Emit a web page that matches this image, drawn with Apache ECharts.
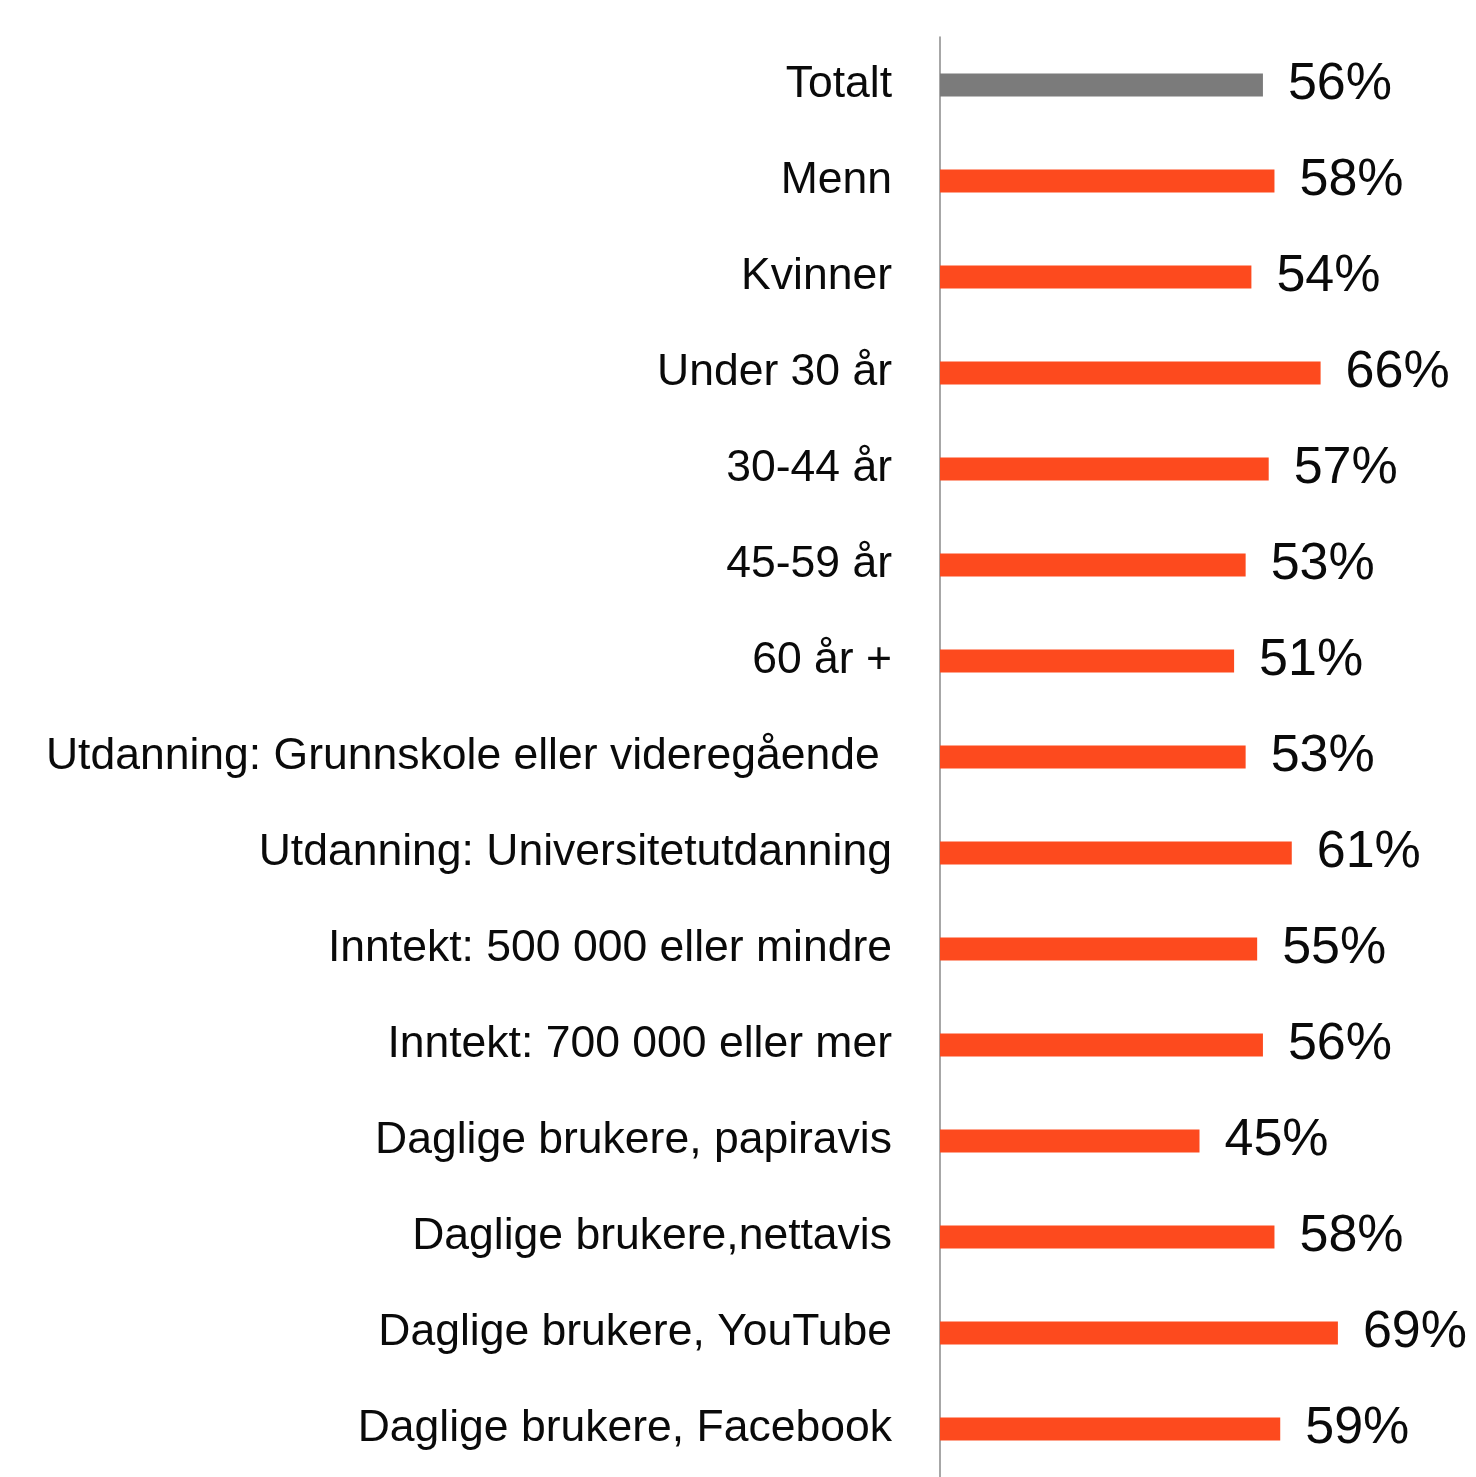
<!DOCTYPE html>
<html>
<head>
<meta charset="utf-8">
<script src="https://cdn.jsdelivr.net/npm/echarts@6/dist/echarts.min.js"></script>
<style>
  html, body { margin: 0; padding: 0; background: #ffffff; }
  #chart { width: 1476px; height: 1477px; }
</style>
</head>
<body>
<div id="chart"></div>
<script>
// Groups, top to bottom
const categories = [
  'Totalt',
  'Menn',
  'Kvinner',
  'Under 30 år',
  '30-44 år',
  '45-59 år',
  '60 år +',
  'Utdanning: Grunnskole eller videregående ',
  'Utdanning: Universitetutdanning',
  'Inntekt: 500 000 eller mindre',
  'Inntekt: 700 000 eller mer',
  'Daglige brukere, papiravis',
  'Daglige brukere,nettavis',
  'Daglige brukere, YouTube',
  'Daglige brukere, Facebook'
];

// Share in percent for each group
const values = [56, 58, 54, 66, 57, 53, 51, 53, 61, 55, 56, 45, 58, 69, 59];

// The overall figure is drawn in grey, all subgroups in orange
const totalCategory = 'Totalt';
const totalColor = '#7b7b7b';
const groupColor = '#fd4a1e';

const chart = echarts.init(document.getElementById('chart'), null, { renderer: 'canvas' });

const seriesData = values.map((v, i) => ({
  value: v,
  itemStyle: { color: categories[i] === totalCategory ? totalColor : groupColor }
}));

chart.setOption({
  backgroundColor: '#ffffff',
  animation: false,
  grid: { left: 940, top: 37, width: 519, height: 1446, containLabel: false },
  xAxis: {
    type: 'value',
    min: 0,
    max: 90,
    show: false
  },
  yAxis: {
    type: 'category',
    data: categories,
    inverse: true,
    axisLine: { show: true, lineStyle: { color: '#8a8a8a', width: 1.5 } },
    axisTick: { show: false },
    splitLine: { show: false },
    axisLabel: {
      margin: 48,
      color: '#0a0a0a',
      fontSize: 44.5,
      fontFamily: '"Liberation Sans", Arial, sans-serif'
    }
  },
  series: [{
    type: 'bar',
    data: seriesData,
    barWidth: 23,
    label: {
      show: true,
      position: 'right',
      distance: 25,
      formatter: '{c}%',
      color: '#0a0a0a',
      fontSize: 52,
      fontFamily: '"Liberation Sans", Arial, sans-serif'
    }
  }]
});
</script>
</body>
</html>
